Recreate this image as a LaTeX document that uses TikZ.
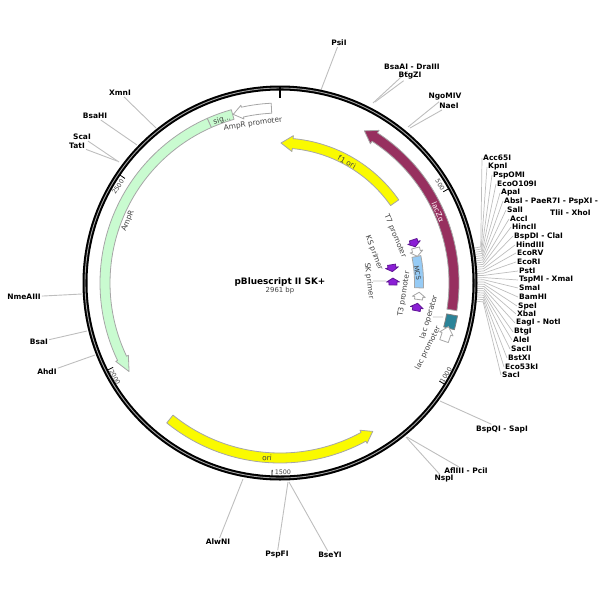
\documentclass[tikz,border=0pt]{standalone}
\usepackage{fontspec}
\setmainfont{DejaVu Sans}
\definecolor{ampgreen}{HTML}{C9FBD0}
\definecolor{lacpurple}{HTML}{97305F}
\definecolor{oriyellow}{HTML}{FAFA00}
\definecolor{mcsblue}{HTML}{96CBF5}
\definecolor{opteal}{HTML}{2A8398}
\definecolor{primerviolet}{HTML}{8B1FD6}
\definecolor{sitegray}{HTML}{BEBEBE}
\tikzset{
  sitelabel/.style={font=\bfseries\fontsize{7.5}{8}\selectfont,inner sep=1pt},
  siteline/.style={draw=sitegray,line width=0.9pt},
  featlabel/.style={font=\fontsize{7.4}{8}\selectfont,text=black!75,inner sep=0pt},
  ticklabel/.style={font=\fontsize{6.3}{7}\selectfont,text=black!75,inner sep=0pt},
  feature/.style={draw=black!35,line width=0.8pt,line join=round},
}
% mid radius, half body, half head, tail angle, head base angle, tip angle
\newcommand{\featarrow}[7]{%
  \pgfmathsetmacro{\rIn}{#2-#3}\pgfmathsetmacro{\rOut}{#2+#3}%
  \pgfmathsetmacro{\rLow}{#2-#4}\pgfmathsetmacro{\rHigh}{#2+#4}%
  \draw[feature,#1] (#5:\rOut) arc[start angle=#5,end angle=#6,radius=\rOut]
    -- (#6:\rHigh) -- (#7:#2) -- (#6:\rLow) -- (#6:\rIn)
    arc[start angle=#6,end angle=#5,radius=\rIn] -- cycle;}
% mid radius, half width, start angle, end angle
\newcommand{\featband}[5]{%
  \pgfmathsetmacro{\rIn}{#2-#3}\pgfmathsetmacro{\rOut}{#2+#3}%
  \draw[feature,#1] (#4:\rOut) arc[start angle=#4,end angle=#5,radius=\rOut]
    -- (#5:\rIn) arc[start angle=#5,end angle=#4,radius=\rIn] -- cycle;}
\begin{document}
\begin{tikzpicture}[x=1pt,y=-1pt]
  \useasboundingbox (0,0) rectangle (600,600);
  % Single cutters, labels at coordinates
  \foreach \name/\txt/\lx/\ly/\rx/\ry in {
      PsiI/PsiI/339/43/321/90,
      BsaAI/BsaAI - DraIII/412/67/373/103,
      BtgZI/BtgZI/410/76/375/102,
      NgoMIV/NgoMIV/445/97/408/127,
      NaeI/NaeI/449/106/410/128,
      BspQI/BspQI - SapI/502/429/440/401,
      AflIII/AflIII - PciI/466/471/407/437,
      NspI/NspI/444/479/406/437,
      BseYI/BseYI/330/555/289/482,
      PspFI/PspFI/277/555/288/482,
      AlwNI/AlwNI/218/542/243/479,
      AhdI/AhdI/47/372/95/355,
      BsaI/BsaI/39/342/87/331,
      NmeAIII/NmeAIII/24/297/82/294,
      TatI/TatI/77/146/117/161,
      ScaI/ScaI/82/137/119/162,
      BsaHI/BsaHI/95/116/137/145,
      XmnI/XmnI/120/93/156/128}{
    \node[sitelabel] (\name) at (\lx,\ly) {\txt};
    \coordinate (ring\name) at (\rx,\ry);
    \draw[siteline] (\name) -- (ring\name);
  }
  % Polylinker cutters
  \begin{scope}[shift={(280,283)}]
  \foreach \txt/\lx/\ly [count=\i from 0] in {
      Acc65I/482/158, KpnI/487/167, PspOMI/492/175, EcoO109I/496/184,
      ApaI/500/193, AbsI - PaeR7I - PspXI -/503/201, SalI/506/210,
      AccI/509/219, HincII/511/227, BspDI - ClaI/513/236, HindIII/515/245,
      EcoRV/516/253, EcoRI/516/262, PstI/518/271, TspMI - XmaI/518/280,
      SmaI/518/288, BamHI/518/297, SpeI/517/306, XbaI/516/314,
      EagI - NotI/515/323, BtgI/513/332, AleI/512/340, SacII/510/349,
      BstXI/507/358, Eco53kI/504/367, SacI/501/375}{
    \pgfmathsetmacro{\fanangle}{-10.2+\i*0.62}
    \node[sitelabel,anchor=west] (fan\i) at (\lx-280,\ly-283) {\txt};
    \coordinate (ringfan\i) at (\fanangle:196);
    \coordinate (elbowfan\i) at (\fanangle:204);
    \draw[siteline,line width=0.7pt] (fan\i.west) -- (elbowfan\i) -- (ringfan\i);
  }
  \end{scope}
  \node[sitelabel,anchor=west] (TliI) at (549,213) {TliI - XhoI};
  % Backbone ring
  \coordinate (center) at (280,283);
  \draw[line width=5pt] (center) circle[radius=195];
  \draw[white!65!black,line width=0.9pt] (center) circle[radius=195];
  \node[font=\bfseries\fontsize{8.9}{10}\selectfont,inner sep=0pt] (title) at (280,282) {pBluescript II SK+};
  \node[font=\fontsize{6.9}{8}\selectfont,text=black!75,inner sep=0pt] (size) at (280,291) {2961 bp};
  \begin{scope}[shift={(280,283)}]
    % Ticks
    \draw[line width=1.2pt] (-90:197) -- (-90:185);
    \foreach \ang in {-29.2,31.6,92.4,153.2,214}
      \draw[line width=0.8pt] (\ang:193) -- (\ang:187);
    % Large features
    \featarrow{fill=lacpurple}{174}{5}{8}{8.9}{-57}{-61}
    \featarrow{fill=oriyellow}{140}{5}{8}{-35}{-84.8}{-89.6}
    \featarrow{fill=oriyellow}{175}{5}{7.5}{129}{61.5}{58}
    \featarrow{fill=ampgreen}{175}{5}{7}{246.2}{154.5}{149.6}
    \featband{fill=ampgreen}{175}{5}{246.2}{254.3}
    \featarrow{fill=white}{175}{5}{7}{267.2}{257.6}{254.5}
    % Small features near the polylinker
    \featband{fill=mcsblue}{139}{4.5}{-11}{2}
    \featband{fill=opteal,draw=black!50}{175}{5.5}{10.5}{15}
    \featarrow{fill=white}{174}{4.5}{7}{19.5}{17}{14.5}
    \featarrow{fill=white}{140}{4}{6.5}{-14.5}{-13}{-11}
    \featarrow{fill=white}{139.5}{4}{6.5}{6.8}{5.7}{3.8}
    \featarrow{fill=primerviolet,draw=primerviolet!70!black}{140}{4}{6.5}{-18}{-16.8}{-15}
    \featarrow{fill=primerviolet,draw=primerviolet!70!black}{139}{4}{6.5}{11.5}{10.2}{8.4}
    \featarrow{fill=primerviolet,draw=primerviolet!70!black}{113}{4}{6.5}{-9.3}{-7.8}{-5.8}
    \featarrow{fill=primerviolet,draw=primerviolet!70!black}{113}{4}{6.5}{1}{-0.5}{-2.5}
  \end{scope}
  % Feature names
  \node[featlabel,text=white,rotate=-66] (lacZ) at (438,212) {lacZα};
  \node[featlabel,rotate=-29] (f1ori) at (347,162) {f1 ori};
  \node[featlabel,rotate=-4] (ori) at (267,458) {ori};
  \node[featlabel,rotate=68] (AmpR) at (128,221) {AmpR};
  \node[featlabel,rotate=17] (sig) at (222,120) {sig...};
  \node[featlabel,rotate=8] (AmpRprom) at (253,124) {AmpR promoter};
  \node[featlabel,rotate=-67] (T7prom) at (395,236) {T7 promoter};
  \node[featlabel,rotate=-69] (KSprimer) at (374,253) {KS primer};
  \node[featlabel,rotate=-83] (SKprimer) at (369,281) {SK primer};
  \node[featlabel,rotate=81] (T3prom) at (404,294) {T3 promoter};
  \node[featlabel,rotate=-79,font=\fontsize{6.5}{7}\selectfont] (MCS) at (417.5,273) {MCS};
  \node[featlabel,rotate=73] (lacop) at (429,317) {lac operator};
  \node[featlabel,rotate=63] (lacprom) at (428,348) {lac promoter};
  \coordinate (SKend) at (386,281);
  \coordinate (lacopend) at (443,317);
  \draw[siteline] (SKprimer) -- (SKend);
  \draw[siteline] (lacop) -- (lacopend);
  % Tick numbers
  \node[ticklabel,rotate=-60] (t500) at (440,185) {500};
  \node[ticklabel,rotate=58] (t1000) at (446,375) {1000};
  \node[ticklabel,rotate=-2] (t1500) at (283,472) {1500};
  \node[ticklabel,rotate=-62] (t2000) at (115,377) {2000};
  \node[ticklabel,rotate=56] (t2500) at (118,187) {2500};
\end{tikzpicture}
\end{document}
